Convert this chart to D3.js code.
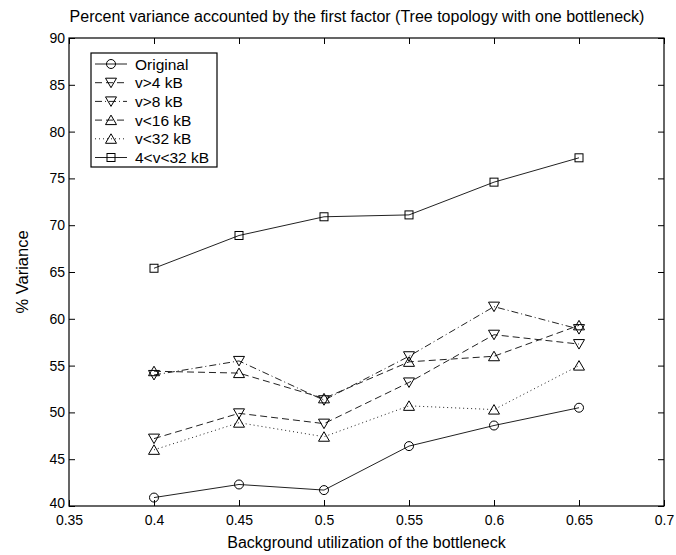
<!DOCTYPE html>
<html>
<head>
<meta charset="utf-8">
<script src="https://cdn.jsdelivr.net/npm/d3@7"></script>
<style>
  body { margin: 0; background: #fff; }
  text { font-family: "Liberation Sans", Arial, sans-serif; fill: #000; }
</style>
</head>
<body>
<div id="chart"></div>
<script>
// values
const utilization = [0.4, 0.45, 0.5, 0.55, 0.6, 0.65];
const original = [40.9, 42.3, 41.7, 46.4, 48.6, 50.5];
const vGt4 = [47.2, 49.9, 48.8, 53.2, 58.3, 57.3];
const vGt8 = [54.0, 55.5, 51.3, 56.0, 61.3, 58.9];
const vLt16 = [54.4, 54.2, 51.5, 55.4, 56.0, 59.3];
const vLt32 = [46.0, 48.9, 47.4, 50.7, 50.3, 55.0];
const v4to32 = [65.4, 68.9, 70.9, 71.1, 74.6, 77.2];

const xTicks = [0.35, 0.4, 0.45, 0.5, 0.55, 0.6, 0.65, 0.7];
const yTicks = [40, 45, 50, 55, 60, 65, 70, 75, 80, 85, 90];

const series = [
  { name: 'Original', values: original, marker: 'circle', dash: null },
  { name: 'v>4 kB', values: vGt4, marker: 'down', dash: '7,4' },
  { name: 'v>8 kB', values: vGt8, marker: 'down', dash: '7,3,1,3' },
  { name: 'v<16 kB', values: vLt16, marker: 'up', dash: '7,4' },
  { name: 'v<32 kB', values: vLt32, marker: 'up', dash: '1,3' },
  { name: '4<v<32 kB', values: v4to32, marker: 'square', dash: null },
];

const width = 676;
const height = 555;
const marginTop = 38;
const marginRight = 12;
const marginBottom = 49;
const marginLeft = 69;

const xScale = d3
  .scaleLinear()
  .domain([0.35, 0.7])
  .range([marginLeft, width - marginRight]);

const yScale = d3
  .scaleLinear()
  .domain([40, 90])
  .range([height - marginBottom, marginTop]);

const svg = d3
  .select('#chart')
  .append('svg')
  .attr('width', width)
  .attr('height', height);

const fmt = (d) => String(d);

// bottom axis
svg
  .append('g')
  .attr('transform', `translate(0,${height - marginBottom})`)
  .call(d3.axisBottom(xScale).tickValues(xTicks).tickFormat(fmt).tickSizeInner(-6).tickSizeOuter(0).tickPadding(9))
  .call((g) => g.select('.domain').remove())
  .call((g) => g.selectAll('text').attr('font-size', 14).attr('dy', '0.71em'));

// top axis (ticks only)
svg
  .append('g')
  .attr('transform', `translate(0,${marginTop})`)
  .call(d3.axisTop(xScale).tickValues(xTicks).tickFormat('').tickSizeInner(-6).tickSizeOuter(0))
  .call((g) => g.select('.domain').remove());

// left axis
svg
  .append('g')
  .attr('transform', `translate(${marginLeft},0)`)
  .call(d3.axisLeft(yScale).tickValues(yTicks).tickFormat(fmt).tickSizeInner(-6).tickSizeOuter(0).tickPadding(4))
  .call((g) => g.select('.domain').remove())
  .call((g) => g.selectAll('text').attr('font-size', 14))
  .call((g) => g.selectAll('.tick').filter((d) => d === 40).select('text').attr('dy', '0.1em'));

// right axis (ticks only)
svg
  .append('g')
  .attr('transform', `translate(${width - marginRight},0)`)
  .call(d3.axisRight(yScale).tickValues(yTicks).tickFormat('').tickSizeInner(-6).tickSizeOuter(0))
  .call((g) => g.select('.domain').remove());

svg.selectAll('.tick line').attr('stroke', '#000');

// plot box
svg
  .append('rect')
  .attr('x', marginLeft)
  .attr('y', marginTop)
  .attr('width', width - marginRight - marginLeft)
  .attr('height', height - marginBottom - marginTop)
  .attr('fill', 'none')
  .attr('stroke', '#000')
  .attr('stroke-width', 1.2);

const line = d3
  .line()
  .x((d, i) => xScale(utilization[i]))
  .y((d) => yScale(d));

function drawMarker(g, type, x, y) {
  const s = 4.5;
  if (type === 'circle') {
    g.append('circle').attr('cx', x).attr('cy', y).attr('r', s);
  } else if (type === 'square') {
    g.append('rect').attr('x', x - 4).attr('y', y - 4).attr('width', 8).attr('height', 8);
  } else if (type === 'down') {
    g.append('path').attr('d', `M${x - 5.5},${y - 4.5}L${x + 5.5},${y - 4.5}L${x},${y + 5}Z`);
  } else if (type === 'up') {
    g.append('path').attr('d', `M${x - 5.5},${y + 4.5}L${x + 5.5},${y + 4.5}L${x},${y - 5}Z`);
  }
}

series.forEach((s) => {
  const g = svg.append('g').attr('class', 'series');
  g.append('path')
    .attr('d', line(s.values))
    .attr('fill', 'none')
    .attr('stroke', '#222')
    .attr('stroke-width', 1)
    .attr('stroke-dasharray', s.dash);
  const mg = g.append('g').attr('fill', 'none').attr('stroke', '#000').attr('stroke-width', 1);
  s.values.forEach((v, i) => drawMarker(mg, s.marker, xScale(utilization[i]), yScale(v)));
});

// legend
const legend = svg.append('g').attr('transform', 'translate(91,53)');
legend
  .append('rect')
  .attr('width', 126)
  .attr('height', 114)
  .attr('fill', '#fff')
  .attr('stroke', '#000')
  .attr('stroke-width', 1.2);

series.forEach((s, i) => {
  const y = 11 + i * 18.7;
  legend
    .append('line')
    .attr('x1', 4)
    .attr('x2', 36)
    .attr('y1', y)
    .attr('y2', y)
    .attr('stroke', '#222')
    .attr('stroke-dasharray', s.dash);
  const mg = legend.append('g').attr('fill', 'none').attr('stroke', '#000');
  drawMarker(mg, s.marker, 20, y);
  legend
    .append('text')
    .attr('x', 44)
    .attr('y', y)
    .attr('dy', '0.36em')
    .attr('font-size', 15.5)
    .text(s.name);
});

// titles
svg
  .append('text')
  .attr('x', 357)
  .attr('y', 22)
  .attr('text-anchor', 'middle')
  .attr('font-size', 16)
  .text('Percent variance accounted by the first factor (Tree topology with one bottleneck)');

svg
  .append('text')
  .attr('x', (marginLeft + width - marginRight) / 2)
  .attr('y', 548)
  .attr('text-anchor', 'middle')
  .attr('font-size', 16)
  .text('Background utilization of the bottleneck');

svg
  .append('text')
  .attr('transform', `translate(28,${(marginTop + height - marginBottom) / 2}) rotate(-90)`)
  .attr('text-anchor', 'middle')
  .attr('font-size', 16.5)
  .text('% Variance');
</script>
</body>
</html>
